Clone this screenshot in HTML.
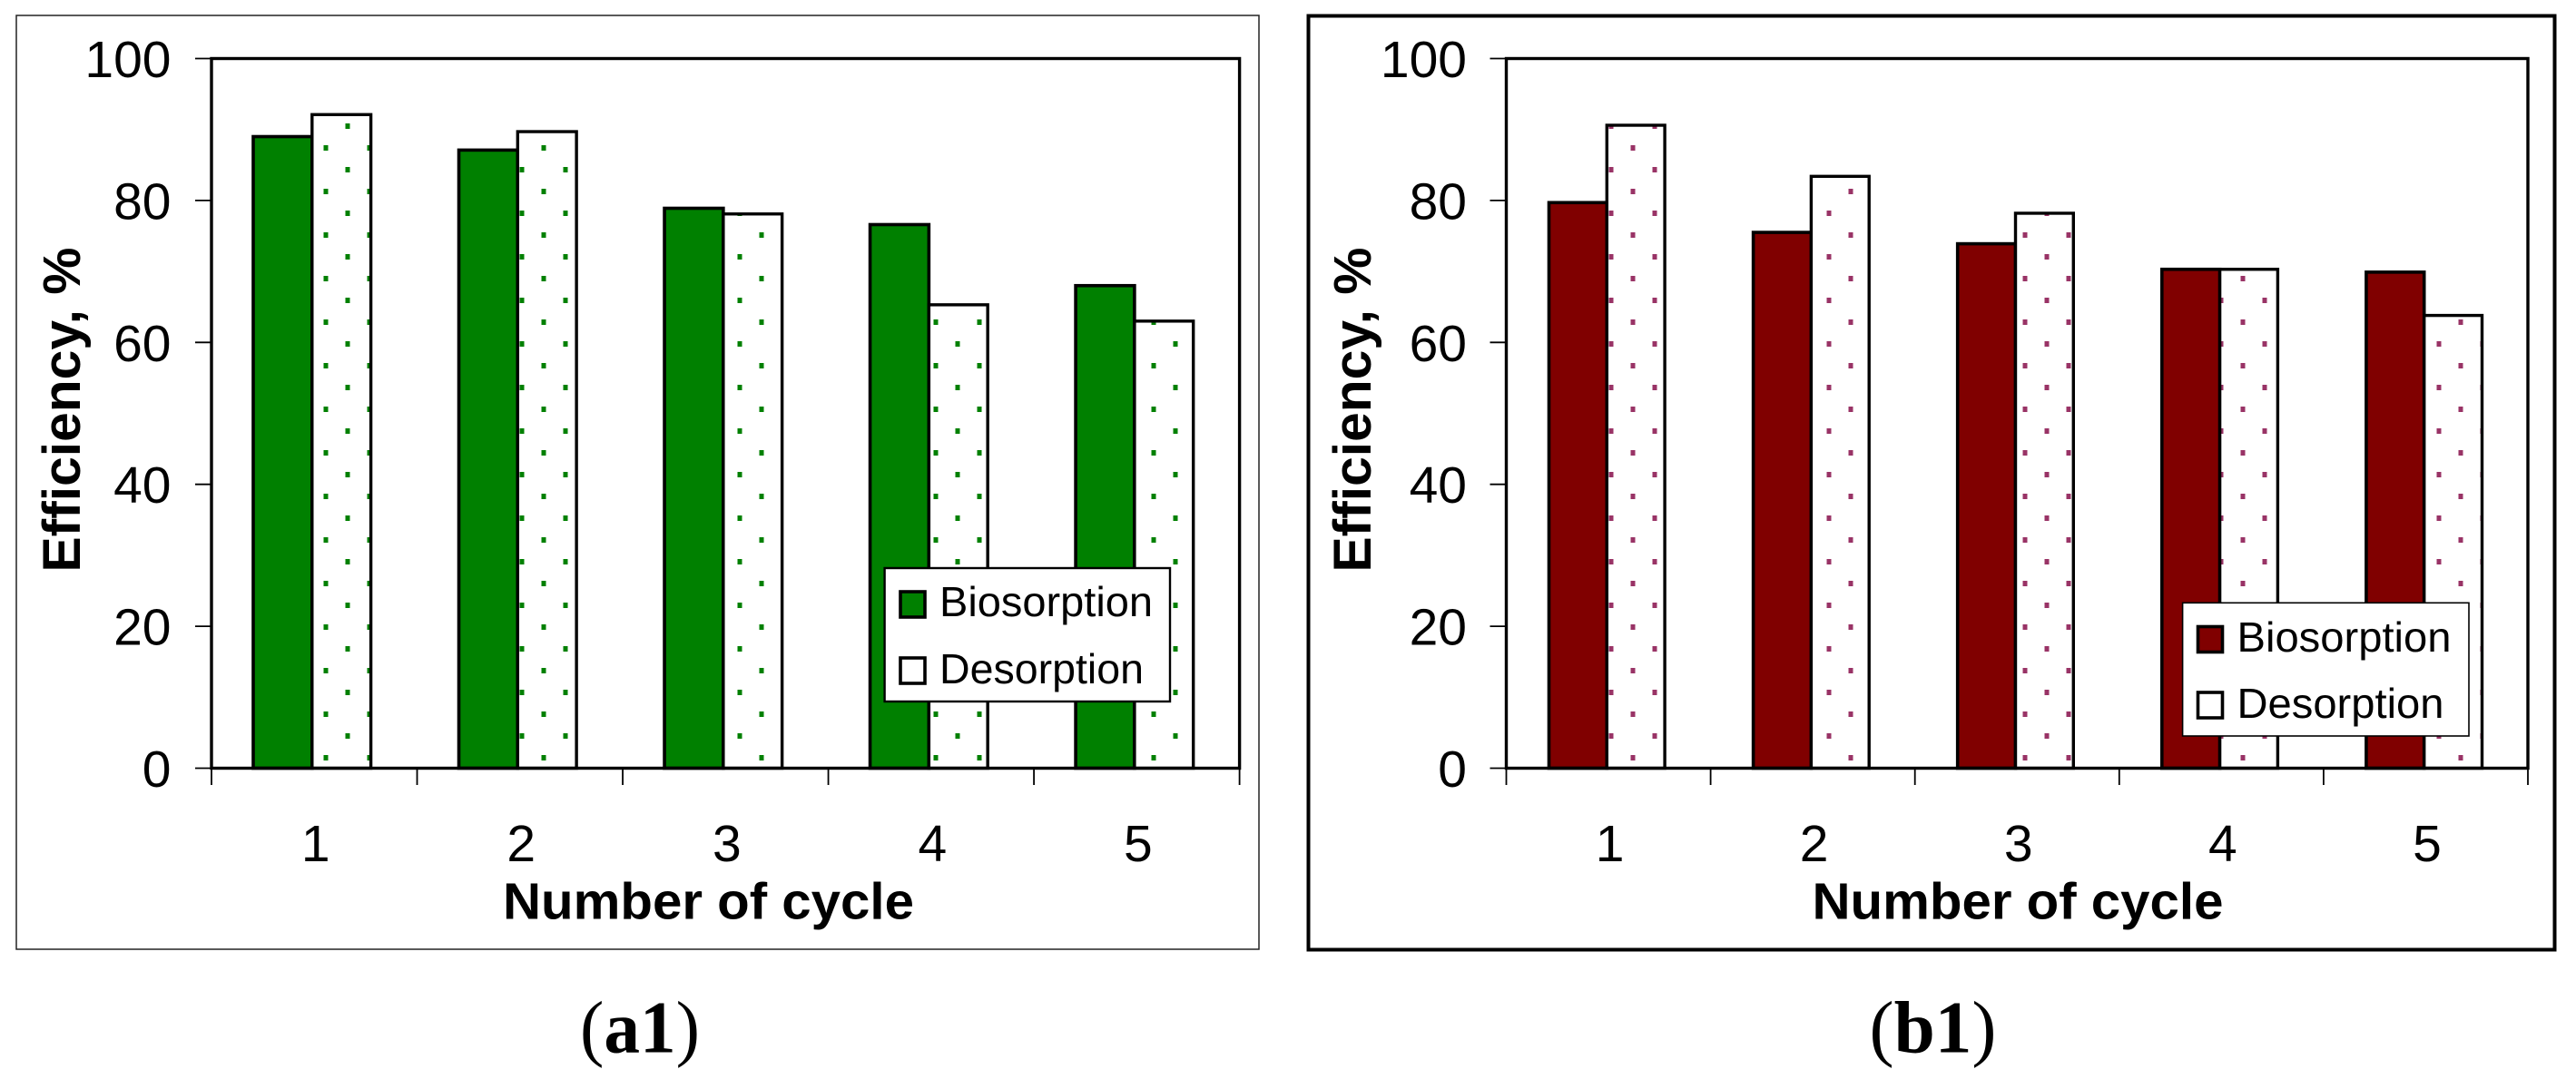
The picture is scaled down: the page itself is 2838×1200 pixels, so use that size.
<!DOCTYPE html>
<html lang="en">
<head>
<meta charset="utf-8">
<title>Biosorption and desorption efficiency by cycle</title>
<style>
  html, body { margin: 0; padding: 0; background: #fff; }
  svg { display: block; }
  text { font-family: "Liberation Sans", sans-serif; fill: #000; }
</style>
</head>
<body>
<svg id="figure" xmlns="http://www.w3.org/2000/svg" width="2838" height="1200" viewBox="0 0 2838 1200">
  <defs>
    <pattern id="dots-green" x="11" y="7" width="48" height="48" patternUnits="userSpaceOnUse">
      <rect x="9.5" y="9" width="5" height="6" fill="#008000"/>
      <rect x="33.5" y="33" width="5" height="6" fill="#008000"/>
    </pattern>
    <pattern id="dots-purple" x="11" y="7" width="48" height="48" patternUnits="userSpaceOnUse">
      <rect x="9.5" y="9" width="5" height="6" fill="#993366"/>
      <rect x="33.5" y="33" width="5" height="6" fill="#993366"/>
    </pattern>
  </defs>
</svg>
<script>
const categories = ['1', '2', '3', '4', '5'];
const seriesNames = ['Biosorption', 'Desorption'];
const yTickValues = [0, 20, 40, 60, 80, 100];
const biosorptionA = [89, 87.1, 78.9, 76.6, 68];
const desorptionA = [92.1, 89.7, 78.1, 65.3, 63];
const biosorptionB = [79.7, 75.5, 73.9, 70.3, 69.9];
const desorptionB = [90.6, 83.4, 78.2, 70.3, 63.8];

const SVG_NS = 'http://www.w3.org/2000/svg';
const root = document.getElementById('figure');

function mk(parent, tag, attrs, txt) {
  const el = document.createElementNS(SVG_NS, tag);
  for (const k in attrs) el.setAttribute(k, attrs[k]);
  if (txt !== undefined) el.textContent = txt;
  parent.appendChild(el);
  return el;
}

const yOf = v => 846.5 - 7.82 * v;

function drawPanel(p) {
  const g = mk(root, 'g', {});
  
  

  const frame = mk(g, 'rect', { x: p.fx, y: p.fy, width: p.fw, height: p.fh, fill: '#fff', stroke: p.frameColor, 'stroke-width': p.frameWidth });
  
  

  const catW = (p.right - p.left) / categories.length;
  const xOf = i => p.left + catW * i;

  // bars
  categories.forEach((c, i) => {
    const bx = xOf(i) + p.barOffset;
    const y1 = yOf(p.bio[i]);
    const bio = mk(g, 'rect', { x: bx, y: y1, width: p.barW, height: yOf(0) - y1, fill: p.color, stroke: '#000', 'stroke-width': 3.6 });
    
    

    const y2 = yOf(p.des[i]);
    const des = mk(g, 'rect', { x: bx + p.barW, y: y2, width: p.barW, height: yOf(0) - y2, fill: '#fff' });
    
    

    const dot = mk(g, 'rect', { x: bx + p.barW, y: y2, width: p.barW, height: yOf(0) - y2, fill: 'url(#' + p.pattern + ')', stroke: '#000', 'stroke-width': 3.4 });
    
    
  });

  // plot box
  const box = mk(g, 'rect', { x: p.left, y: yOf(100), width: p.right - p.left, height: yOf(0) - yOf(100), fill: 'none', stroke: '#000', 'stroke-width': 3.4 });
  
  

  // y axis
  yTickValues.forEach(v => {
    const t = mk(g, 'line', { x1: p.left - 18, x2: p.left, y1: yOf(v), y2: yOf(v), stroke: '#000', 'stroke-width': 1.8 });
    
    

    const l = mk(g, 'text', { x: p.yLabelX, y: yOf(v) + 20.5, 'text-anchor': 'end', 'font-size': 57 }, String(v));
    
    
  });

  // x axis
  for (let i = 0; i <= categories.length; i++) {
    const t = mk(g, 'line', { x1: xOf(i), x2: xOf(i), y1: yOf(0), y2: 865, stroke: '#000', 'stroke-width': 1.8 });
    
    
  }
  categories.forEach((c, i) => {
    const l = mk(g, 'text', { x: xOf(i) + catW / 2 + 1.5, y: 949, 'text-anchor': 'middle', 'font-size': 57 }, c);
    
    
  });

  const xTitle = mk(g, 'text', { x: p.xTitleX, y: 1012.5, 'font-size': 57, 'font-weight': 'bold', textLength: 453, lengthAdjust: 'spacingAndGlyphs' }, 'Number of cycle');
  
  

  const yTitle = mk(g, 'text', { transform: 'translate(' + p.yTitleX + ' 630.5) rotate(-90)', 'font-size': 58, 'font-weight': 'bold', textLength: 358, lengthAdjust: 'spacingAndGlyphs' }, 'Efficiency, %');
  
  

  // legend
  const lg = mk(g, 'g', {});
  
  

  const lb = mk(lg, 'rect', { x: p.lx, y: p.ly, width: p.lw, height: p.lh, fill: '#fff', stroke: '#000', 'stroke-width': p.legendStroke });
  
  

  seriesNames.forEach((name, k) => {
    const s = mk(lg, 'rect', { x: p.swX, y: p.swY[k], width: p.swW, height: 28, fill: k === 0 ? p.color : '#fff', stroke: '#000', 'stroke-width': 3.6 });
    
    

    const t = mk(lg, 'text', { x: p.ltX, y: p.ltY[k], 'font-size': 46.5, textLength: p.ltW[k], lengthAdjust: 'spacingAndGlyphs' }, name);
    
    
  });

  // caption
  const cap = mk(g, 'text', { x: p.capX, y: 1159.5, 'font-size': 82, textLength: p.capW, lengthAdjust: 'spacingAndGlyphs', style: 'font-family:"Liberation Serif",serif' });
  
  
  mk(cap, 'tspan', {}, '(');
  mk(cap, 'tspan', { 'font-weight': 'bold' }, p.id);
  mk(cap, 'tspan', {}, ')');
}

drawPanel({
  id: 'a1', bio: biosorptionA, des: desorptionA, color: '#008000', pattern: 'dots-green',
  fx: 18, fy: 17, fw: 1369, fh: 1029, frameColor: '#222', frameWidth: 1.5,
  left: 233, right: 1365.6, barOffset: 46, barW: 64.8,
  yLabelX: 188.5, xTitleX: 554, yTitleX: 88,
  lx: 974.6, ly: 626, lw: 314.4, lh: 147, legendStroke: 2.4,
  swX: 992, swW: 27, swY: [652, 725],
  ltX: 1035, ltY: [679, 753], ltW: [235, 225],
  capX: 639, capW: 132
});

drawPanel({
  id: 'b1', bio: biosorptionB, des: desorptionB, color: '#800000', pattern: 'dots-purple',
  fx: 1441.5, fy: 17.5, fw: 1373, fh: 1029, frameColor: '#000', frameWidth: 4,
  left: 1659.5, right: 2785, barOffset: 47, barW: 63.8,
  yLabelX: 1616, xTitleX: 1996.5, yTitleX: 1510,
  lx: 2404.6, ly: 664.3, lw: 315.4, lh: 146.7, legendStroke: 1.6,
  swX: 2421.5, swW: 27, swY: [690.5, 763],
  ltX: 2464.5, ltY: [718, 791], ltW: [236, 228],
  capX: 2059.5, capW: 140
});
</script>
</body>
</html>
